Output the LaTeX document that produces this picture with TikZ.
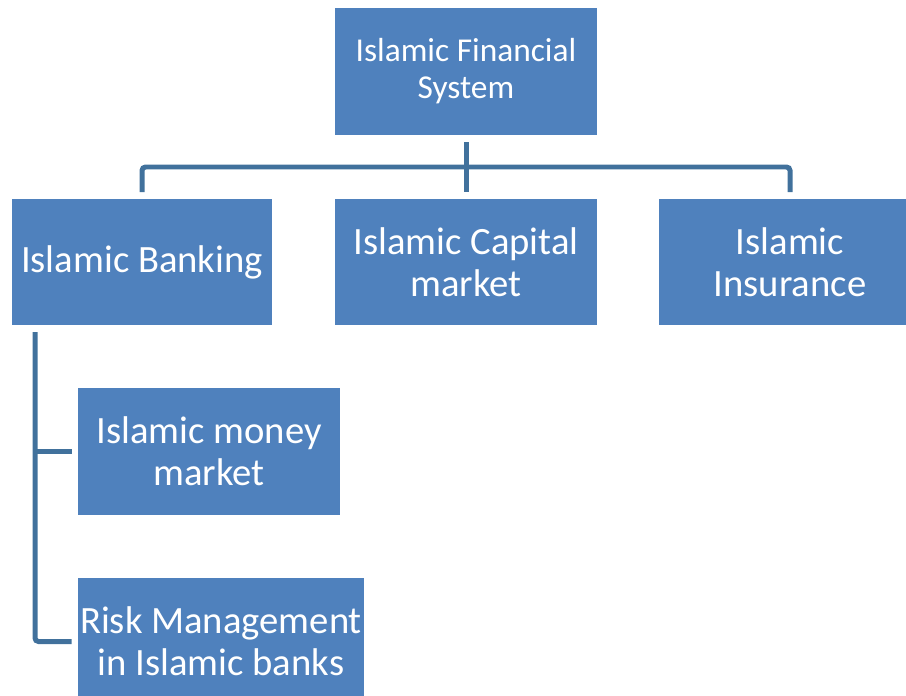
\documentclass[tikz,border=0pt]{standalone}
\usepackage{fontspec}
\setmainfont{Carlito}
\usepackage{tikz}
\usetikzlibrary{positioning}
\definecolor{boxblue}{HTML}{4F81BD}
\definecolor{linkblue}{HTML}{41719C}

\begin{document}
\begin{tikzpicture}[x=0.02cm,y=-0.02cm,
  box/.style={fill=boxblue,text=white,align=center,inner sep=0pt,
    minimum width=5.24cm,minimum height=2.54cm,font=\fontsize{22}{24}\selectfont},
  link/.style={draw=linkblue,line width=0.1cm,rounded corners=2pt}]
 \useasboundingbox (0,0) rectangle (906,696);
 \node[box,font=\fontsize{19}{21}\selectfont] (ifs) at (466,71.5) {Islamic Financial\\System};
 \node[box,minimum width=5.2cm] (ib) at (142,262) {Islamic Banking};
 \node[box] (icm) at (466,262) {Islamic Capital\\market};
 \node[box] (ii) at (790,262) {Islamic\\Insurance};
 \node[box] (imm) at (209,451.5) {Islamic money\\market};
 \node[box,minimum width=5.72cm] (rm) at (221,641.5) {Risk Management\\in Islamic banks};
 \coordinate (bus) at (466,167);
 \coordinate (spine) at (35,332);
%top level
 \draw[link] ([yshift=-0.14cm]ifs.south) -- ([yshift=0.12cm]icm.north);
 \draw[link] ([yshift=0.12cm]ib.north) |- (bus) -| ([yshift=0.12cm]ii.north);
%banking branch
 \draw[link] (spine) |- ([xshift=-0.12cm]rm.west);
 \draw[link] (spine |- imm.west) -- ([xshift=-0.12cm]imm.west);
\end{tikzpicture}
\end{document}
